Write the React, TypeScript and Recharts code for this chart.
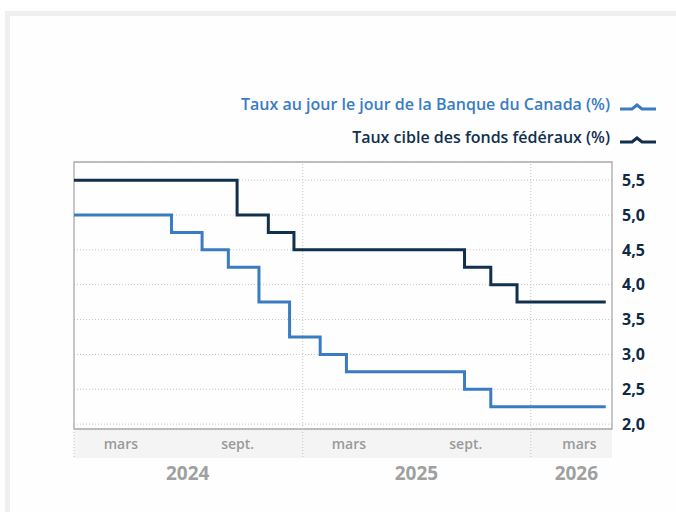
import {
  CartesianGrid,
  Legend,
  Line,
  LineChart,
  ReferenceArea,
  ReferenceLine,
  XAxis,
  YAxis,
} from 'recharts';

// Taux directeurs, en vigueur à partir de chaque date
const BOC_DATES = [
  '2024-01-01', '2024-06-05', '2024-07-24', '2024-09-04', '2024-10-23',
  '2024-12-11', '2025-01-29', '2025-03-12', '2025-09-17', '2025-10-29', '2026-05-01',
];
const BOC_RATES = [5.0, 4.75, 4.5, 4.25, 3.75, 3.25, 3.0, 2.75, 2.5, 2.25, 2.25];

const FED_DATES = [
  '2024-01-01', '2024-09-18', '2024-11-07', '2024-12-18',
  '2025-09-17', '2025-10-29', '2025-12-10', '2026-05-01',
];
const FED_RATES = [5.5, 5.0, 4.75, 4.5, 4.25, 4.0, 3.75, 3.75];

const BOC_NAME = 'Taux au jour le jour de la Banque du Canada (%)';
const FED_NAME = 'Taux cible des fonds fédéraux (%)';

const Y_TICKS = [2, 2.5, 3, 3.5, 4, 4.5, 5, 5.5];
const YEAR_STARTS = ['2024-01-01', '2025-01-01', '2026-01-01'];
const MONTH_TICKS = ['2024-03-16', '2024-09-19', '2025-03-16', '2025-09-19', '2026-03-20'];
const MONTH_LABELS = ['mars', 'sept.', 'mars', 'sept.', 'mars'];
const YEAR_TICKS = ['2024-07-01', '2025-07-02', '2026-03-15'];
const YEAR_LABELS = ['2024', '2025', '2026'];

const X_START = '2024-01-01';
const X_END = '2026-05-11';
const Y_MIN = 1.93;
const Y_MAX = 5.76;

const BLUE = '#3a7cc4';
const NAVY = '#11304d';
const GRID = '#c4c4c4';
const FONT = '"Open Sans", sans-serif';

const ms = (d: string) => new Date(d + 'T00:00:00Z').getTime();

const bocData = BOC_DATES.map((d, i) => ({ t: ms(d), rate: BOC_RATES[i] }));
const fedData = FED_DATES.map((d, i) => ({ t: ms(d), rate: FED_RATES[i] }));

const yearStarts = YEAR_STARTS.map(ms);
const monthTicks = MONTH_TICKS.map(ms);
const yearTicks = YEAR_TICKS.map(ms);
const xDomain = [ms(X_START), ms(X_END)];

// one bottom axis carries the year separators, the months and the years
const bottomTicks = [...yearStarts, ...monthTicks, ...yearTicks].sort((a, b) => a - b);

function BottomTick(props: any) {
  const { x, y, payload } = props;
  const v = payload.value as number;
  if (yearStarts.includes(v)) {
    return (
      <line x1={x} x2={x} y1={y} y2={y + 29} stroke={GRID} strokeDasharray="1 2" />
    );
  }
  const yi = yearTicks.indexOf(v);
  if (yi >= 0) {
    return (
      <text
        x={x}
        y={y + 51}
        textAnchor="middle"
        fill="#a0a0a0"
        fontSize={19}
        fontWeight={700}
        fontFamily={FONT}
      >
        {YEAR_LABELS[yi]}
      </text>
    );
  }
  const label = MONTH_LABELS[monthTicks.indexOf(v)] ?? '';
  return (
    <text
      x={x}
      y={y + 20}
      textAnchor="middle"
      fill="#9a9a9a"
      fontSize={14}
      fontWeight={600}
      fontFamily={FONT}
    >
      {label}
    </text>
  );
}

function TopTick(props: any) {
  const { x, y } = props;
  return <line x1={x} x2={x} y1={y - 7} y2={y} stroke={GRID} strokeDasharray="1 2" />;
}

function StepIcon({ color }: { color: string }) {
  return (
    <svg width={38} height={10} style={{ marginLeft: 9, marginTop: 6 }}>
      <path
        d="M1,7 H13 L18,3 L23,7 H37"
        fill="none"
        stroke={color}
        strokeWidth={3}
      />
    </svg>
  );
}

function renderLegend(props: { payload?: { value: string; color: string }[] }) {
  const { payload } = props;
  if (!payload) return null;
  return (
    <div style={{ display: 'flex', flexDirection: 'column', alignItems: 'flex-end' }}>
      {payload.map((entry) => (
        <div
          key={entry.value}
          style={{ display: 'flex', alignItems: 'center', height: 33 }}
        >
          <span
            style={{
              color: entry.color,
              fontFamily: FONT,
              fontSize: 16,
              fontWeight: 600,
            }}
          >
            {entry.value}
          </span>
          <StepIcon color={entry.color} />
        </div>
      ))}
    </div>
  );
}

export default function App() {
  return (
    <div
      style={{
        position: 'fixed',
        left: 0,
        top: 0,
        width: 676,
        height: 512,
        overflow: 'hidden',
        background: '#ffffff',
        fontFamily: FONT,
      }}
    >
      <div
        style={{
          position: 'absolute',
          left: 5,
          top: 11,
          width: 700,
          height: 540,
          border: '5px solid #efefef',
          background: '#fefefe',
        }}
      />
      <div
        style={{
          position: 'absolute',
          left: 74,
          top: 429,
          width: 538,
          height: 29,
          background: '#f4f4f4',
        }}
      />
      <div style={{ position: 'absolute', left: 0, top: 0 }}>
        <LineChart
          width={676}
          height={512}
          margin={{ top: 155, right: 0, left: 74, bottom: 53 }}
        >
          <CartesianGrid vertical={false} stroke={GRID} strokeDasharray="1 2" />
          <XAxis
            xAxisId="top"
            orientation="top"
            dataKey="t"
            type="number"
            domain={xDomain}
            ticks={yearStarts}
            interval={0}
            height={7}
            axisLine={false}
            tickLine={false}
            tickSize={0}
            tickMargin={0}
            tick={TopTick}
          />
          <XAxis
            dataKey="t"
            type="number"
            domain={xDomain}
            ticks={bottomTicks}
            interval={0}
            height={30}
            axisLine={false}
            tickLine={false}
            tickSize={0}
            tickMargin={0}
            tick={BottomTick}
          />
          <YAxis
            orientation="right"
            type="number"
            domain={[Y_MIN, Y_MAX]}
            ticks={Y_TICKS}
            interval={0}
            width={64}
            axisLine={false}
            tickLine={false}
            tickSize={0}
            tickMargin={10}
            tickFormatter={(v: number) => v.toFixed(1).replace('.', ',')}
            tick={{ fill: '#0f2a45', fontSize: 16, fontWeight: 700, fontFamily: FONT }}
          />
          {yearStarts.slice(1).map((t) => (
            <ReferenceLine key={t} x={t} stroke={GRID} strokeDasharray="1 2" />
          ))}
          <ReferenceArea
            x1={xDomain[0]}
            x2={xDomain[1]}
            y1={Y_MIN}
            y2={Y_MAX}
            fill="none"
            stroke="#aaaaaa"
            strokeWidth={1.3}
            ifOverflow="visible"
          />
          <Line
            data={bocData}
            dataKey="rate"
            name={BOC_NAME}
            type="stepAfter"
            stroke={BLUE}
            strokeWidth={3}
            dot={false}
            activeDot={false}
            isAnimationActive={false}
          />
          <Line
            data={fedData}
            dataKey="rate"
            name={FED_NAME}
            type="stepAfter"
            stroke={NAVY}
            strokeWidth={3}
            dot={false}
            activeDot={false}
            isAnimationActive={false}
          />
          <Legend
            layout="vertical"
            align="center"
            verticalAlign="middle"
            width={657}
            wrapperStyle={{ left: 0, top: 87 }}
            content={(props) =>
              renderLegend(props as { payload?: { value: string; color: string }[] })
            }
          />
        </LineChart>
      </div>
    </div>
  );
}
